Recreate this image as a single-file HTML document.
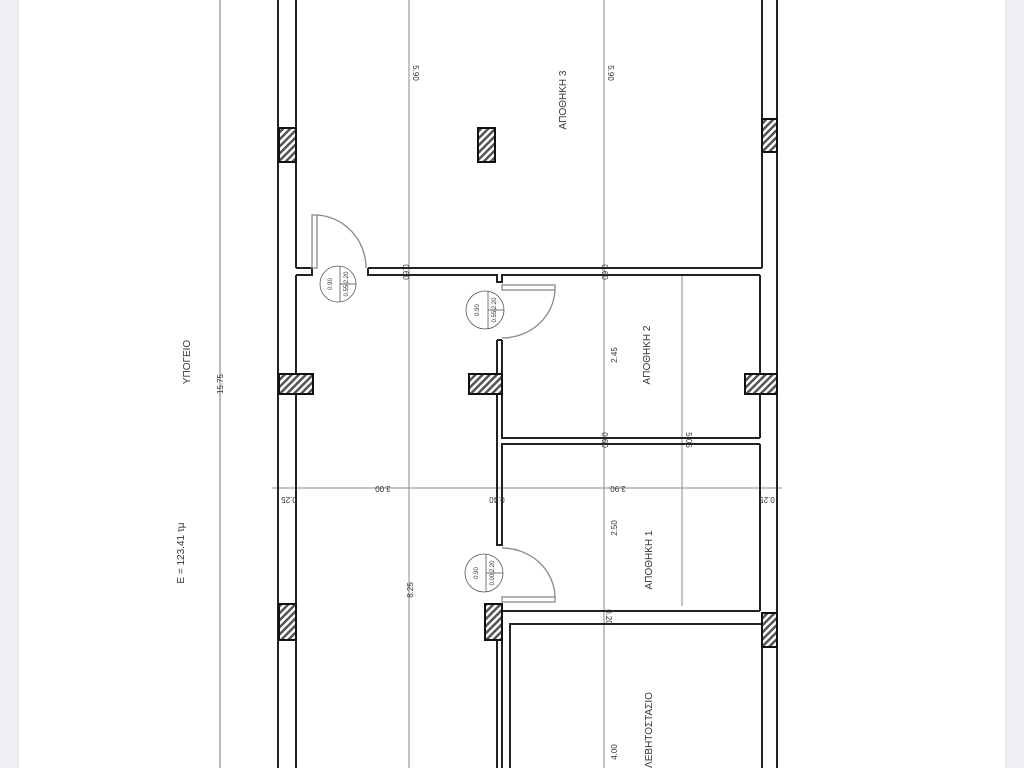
<!DOCTYPE html>
<html><head><meta charset="utf-8"><style>
html,body{margin:0;padding:0;width:1024px;height:768px;overflow:hidden;background:#fff}
svg{display:block}
text{font-family:"Liberation Sans","DejaVu Sans",sans-serif;fill:#333}
</style></head><body>
<svg width="1024" height="768" viewBox="0 0 1024 768" xmlns="http://www.w3.org/2000/svg">
<defs>
<pattern id="h" width="5" height="5" patternUnits="userSpaceOnUse" patternTransform="rotate(45)">
<rect width="5" height="5" fill="#fff"/><rect width="2.5" height="5" fill="#555"/></pattern>
</defs>
<rect x="0" y="0" width="18" height="768" fill="#eeeef5"/>
<rect x="1006" y="0" width="18" height="768" fill="#eeeef5"/>
<line x1="18" y1="0" x2="18" y2="768" stroke="#ddd"/>
<line x1="1006" y1="0" x2="1006" y2="768" stroke="#ddd"/>
<!-- dimension lines -->
<g stroke="#888" stroke-width="1">
<line x1="220" y1="0" x2="220" y2="768" stroke="#bbb" stroke-width="2"/>
<line x1="409" y1="0" x2="409" y2="768"/>
<line x1="604" y1="0" x2="604" y2="768"/>
<line x1="682" y1="275" x2="682" y2="606"/>
<line x1="272" y1="488" x2="782" y2="488"/>
</g>
<!-- walls -->
<g stroke="#222" stroke-width="2" fill="none">
<line x1="278" y1="0" x2="278" y2="768"/>
<line x1="296" y1="0" x2="296" y2="268"/>
<line x1="296" y1="275" x2="296" y2="768"/>
<line x1="762" y1="0" x2="762" y2="268"/>
<line x1="760" y1="275" x2="760" y2="438"/>
<line x1="760" y1="444" x2="760" y2="611"/>
<line x1="762" y1="624" x2="762" y2="768"/>
<line x1="777" y1="0" x2="777" y2="768"/>
<!-- top partition -->
<polyline points="296,268 312,268 312,275 296,275"/>
<polyline points="368,268 762,268"/>
<polyline points="368,268 368,275 497,275 497,282 502,282 502,275 760,275"/>
<!-- apothiki 2 left wall -->
<polyline points="497,340 497,545 502,545 502,444 760,444"/>
<polyline points="502,340 502,438 760,438"/>
<line x1="497" y1="340" x2="502" y2="340"/>
<!-- lower -->
<polyline points="502,611 760,611"/>
<polyline points="510,768 510,624 762,624"/>
<line x1="502" y1="604" x2="502" y2="768"/>
<line x1="497" y1="604" x2="497" y2="768"/>
</g>
<!-- doors -->
<g stroke="#888" stroke-width="1.3" fill="none">
<rect x="312" y="215" width="5" height="53"/>
<path d="M317,215 A52,53 0 0 1 366,268"/>
<rect x="502" y="285" width="53" height="5"/>
<path d="M555,290 A53,50 0 0 1 502,338"/>
<rect x="502" y="597" width="53" height="5"/>
<path d="M555,597 A53,50 0 0 0 502,548"/>
</g>
<g stroke="#555" stroke-width="0.8" fill="#fff">
<circle cx="338" cy="284" r="18"/><line x1="340" y1="266" x2="340" y2="302"/><line x1="340" y1="284" x2="356" y2="284"/>
<circle cx="485" cy="310" r="19"/><line x1="488" y1="291" x2="488" y2="329"/><line x1="488" y1="310" x2="504" y2="310"/>
<circle cx="484" cy="573" r="19"/><line x1="486" y1="554" x2="486" y2="592"/><line x1="486" y1="573" x2="503" y2="573"/>
</g>
<!-- columns -->
<g stroke="#111" stroke-width="2" fill="url(#h)">
<rect x="279" y="128" width="17" height="34"/>
<rect x="279" y="374" width="34" height="20"/>
<rect x="279" y="604" width="17" height="36"/>
<rect x="762" y="119" width="15" height="33"/>
<rect x="745" y="374" width="32" height="20"/>
<rect x="762" y="613" width="15" height="34"/>
<rect x="478" y="128" width="17" height="34"/>
<rect x="469" y="374" width="33" height="20"/>
<rect x="485" y="604" width="17" height="36"/>
</g>
<!-- labels -->
<g font-size="10">
<text transform="translate(190,362) rotate(-90)" text-anchor="middle">ΥΠΟΓΕΙΟ</text>
<text transform="translate(184,553) rotate(-90)" text-anchor="middle">E = 123.41 τμ</text>
<text transform="translate(566,100) rotate(-90)" text-anchor="middle">ΑΠΟΘΗΚΗ 3</text>
<text transform="translate(650,355) rotate(-90)" text-anchor="middle">ΑΠΟΘΗΚΗ 2</text>
<text transform="translate(652,560) rotate(-90)" text-anchor="middle">ΑΠΟΘΗΚΗ 1</text>
<text transform="translate(652,730) rotate(-90)" text-anchor="middle">ΛΕΒΗΤΟΣΤΑΣΙΟ</text>
</g>
<g font-size="8" fill="#444">
<text transform="translate(223,384) rotate(-90)" text-anchor="middle">15.75</text>
<text transform="translate(413,73) rotate(90)" text-anchor="middle">5.90</text>
<text transform="translate(608,73) rotate(90)" text-anchor="middle">5.90</text>
<text transform="translate(617,355) rotate(-90)" text-anchor="middle">2.45</text>
<text transform="translate(617,528) rotate(-90)" text-anchor="middle">2.50</text>
<text transform="translate(617,752) rotate(-90)" text-anchor="middle">4.00</text>
<text transform="translate(413,590) rotate(-90)" text-anchor="middle">8.25</text>
<text transform="translate(686,440) rotate(90)" text-anchor="middle">5.05</text>
<text transform="translate(383,486) rotate(180)" text-anchor="middle">3.00</text>
<text transform="translate(618,486) rotate(180)" text-anchor="middle">3.90</text>
<text transform="translate(289,497) rotate(180)" text-anchor="middle">0.25</text>
<text transform="translate(497,497) rotate(180)" text-anchor="middle">0.40</text>
<text transform="translate(767,497) rotate(180)" text-anchor="middle">0.25</text>
<text transform="translate(403,272) rotate(90)" text-anchor="middle">0.60</text>
<text transform="translate(602,272) rotate(90)" text-anchor="middle">0.60</text>
<text transform="translate(602,440) rotate(90)" text-anchor="middle">0.60</text>
<text transform="translate(606,617) rotate(90)" text-anchor="middle">0.20</text>
</g>
<g font-size="6" fill="#444">
<text transform="translate(332,284) rotate(-90)" text-anchor="middle">0.90</text>
<text transform="translate(348,284) rotate(-90)" text-anchor="middle">0.55|2.20</text>
<text transform="translate(479,310) rotate(-90)" text-anchor="middle">0.90</text>
<text transform="translate(496,310) rotate(-90)" text-anchor="middle">0.55|2.20</text>
<text transform="translate(478,573) rotate(-90)" text-anchor="middle">0.90</text>
<text transform="translate(494,573) rotate(-90)" text-anchor="middle">0.00|2.20</text>
</g>
</svg>
</body></html>
